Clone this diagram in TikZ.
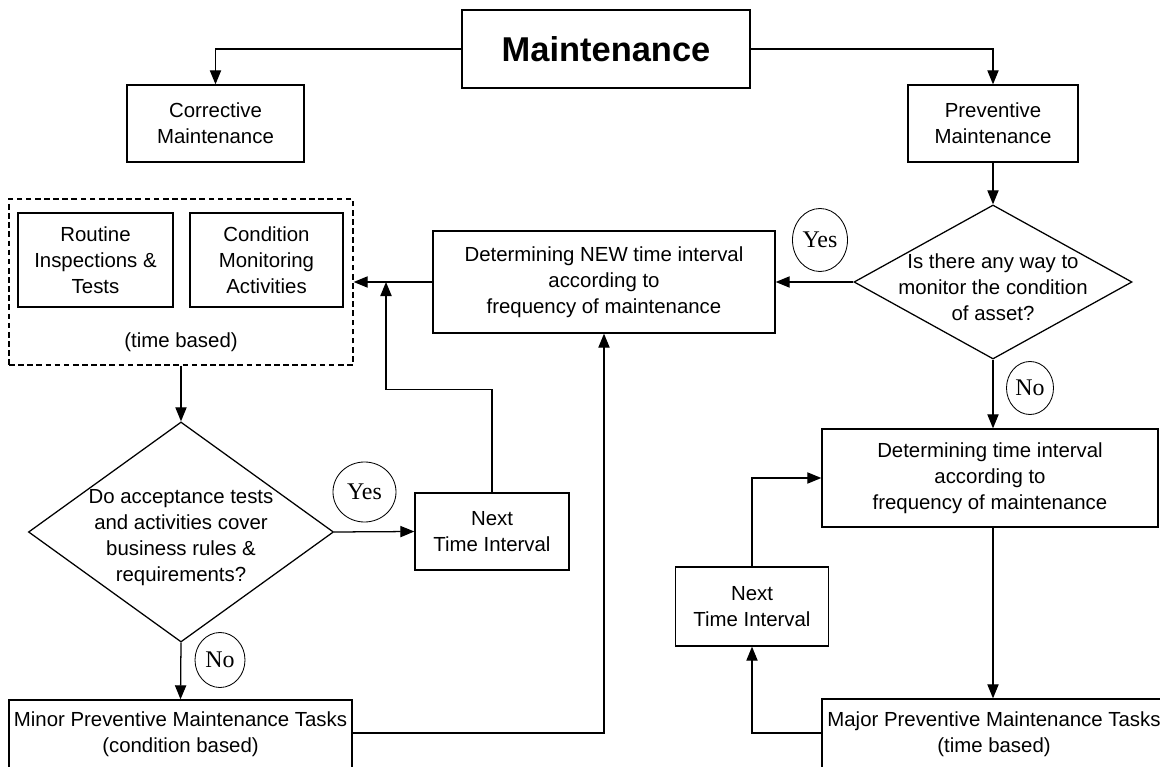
\documentclass[tikz,border=0pt]{standalone}
\usepackage{fontspec}
\setmainfont{Liberation Sans}
\newfontfamily\answerfont{Liberation Serif}
\usetikzlibrary{shapes.geometric,arrows.meta}

\begin{document}
\begin{tikzpicture}[x=0.025cm, y=-0.025cm, line width=0.9pt, >={Triangle[length=10pt,width=8pt]},
    every node/.style={align=center, font=\fontsize{14.5}{18.5}\selectfont},
    box/.style={draw, rectangle, inner sep=2pt},
    choice/.style={draw, diamond, inner sep=0pt},
    answer/.style={draw, ellipse, line width=0.6pt, inner sep=0pt, font=\answerfont\fontsize{17}{19}\selectfont}]
    \useasboundingbox (0,0) rectangle (1160,767);

    \node[box, minimum width=7.2cm, minimum height=1.95cm, font=\bfseries\fontsize{24.5}{28}\selectfont] (main) at (606,49) {Maintenance};
    \node[box, minimum width=4.425cm, minimum height=1.925cm] (corr) at (215.5,123.5) {Corrective\\Maintenance};
    \node[box, minimum width=4.25cm, minimum height=1.925cm] (prev) at (993,123.5) {Preventive\\Maintenance};

    \node[box, dashed, dash pattern=on 4pt off 2.5pt, minimum width=8.6cm, minimum height=4.15cm] (group) at (181,282) {};
    \node[box, minimum width=3.875cm, minimum height=2.35cm] (routine) at (95.5,260) {Routine\\Inspections \&\\Tests};
    \node[box, minimum width=3.825cm, minimum height=2.35cm] (cond) at (266.5,260) {Condition\\Monitoring\\Activities};
    \node (timebased) at (181,342) {(time based)};

    \node[box, minimum width=8.55cm, minimum height=2.55cm] (newint) at (604,282) {Determining NEW time interval\\according to\\frequency of maintenance};
    \node[choice, minimum width=6.95cm, minimum height=3.85cm] (ask1) at (993,282) {};
    \node (ask1text) at (993,287) {Is there any way to\\monitor the condition\\of asset?};
    \node[answer, minimum width=1.375cm, minimum height=1.575cm] (yes1) at (820,240) {Yes};
    \node[answer, minimum width=1.175cm, minimum height=1.325cm] (no1) at (1030,388) {No};

    \node[box, minimum width=8.4cm, minimum height=2.45cm] (det) at (990,478) {Determining time interval\\according to\\frequency of maintenance};
    \node[box, minimum width=3.825cm, minimum height=1.975cm] (next2) at (752,606.5) {Next\\Time Interval};
    \node[box, minimum width=8.6cm, minimum height=2.3cm] (major) at (994,745) {Major Preventive Maintenance Tasks\\(time based)\\\mbox{}};

    \node[choice, minimum width=7.625cm, minimum height=5.5cm] (ask2) at (181,532) {};
    \node (ask2text) at (181,538) {Do acceptance tests\\and activities cover\\business rules \&\\requirements?};
    \node[answer, minimum width=1.575cm, minimum height=1.5cm] (yes2) at (364.5,492) {Yes};
    \node[answer, minimum width=1.25cm, minimum height=1.375cm] (no2) at (220,660) {No};
    \node[box, minimum width=3.85cm, minimum height=1.925cm] (next1) at (492,531.5) {Next\\Time Interval};
    \node[box, minimum width=8.575cm, minimum height=2.25cm] (minor) at (180.5,745) {Minor Preventive Maintenance Tasks\\(condition based)\\\mbox{}};

    \coordinate (join) at (386,282);

    \draw[->] (main.west) -| (corr.north);
    \draw[->] (main.east) -| (prev.north);
    \draw[->] (prev.south) -- (ask1.north);
    \draw[->] (ask1.west) -- (newint.east);
    \draw[->] (newint.west) -- (group.east);
    \draw[->] (ask1.south) -- (ask1.south |- det.north);
    \draw[->] (ask1.south |- det.south) -- (ask1.south |- major.north);
    \draw[->] ([yshift=0.3cm]major.west) -| (next2.south);
    \draw[->] (next2.north) |- (det.west);
    \draw[->] (group.south) -- (ask2.north);
    \draw[->] (ask2.east) -- (next1.west);
    \draw[->] (next1.north) -- ++(0,-103) -| (join);
    \draw[->] (ask2.south) -- (minor.north);
    \draw[->] ([yshift=0.3cm]minor.east) -| (newint.south);
\end{tikzpicture}
\end{document}
